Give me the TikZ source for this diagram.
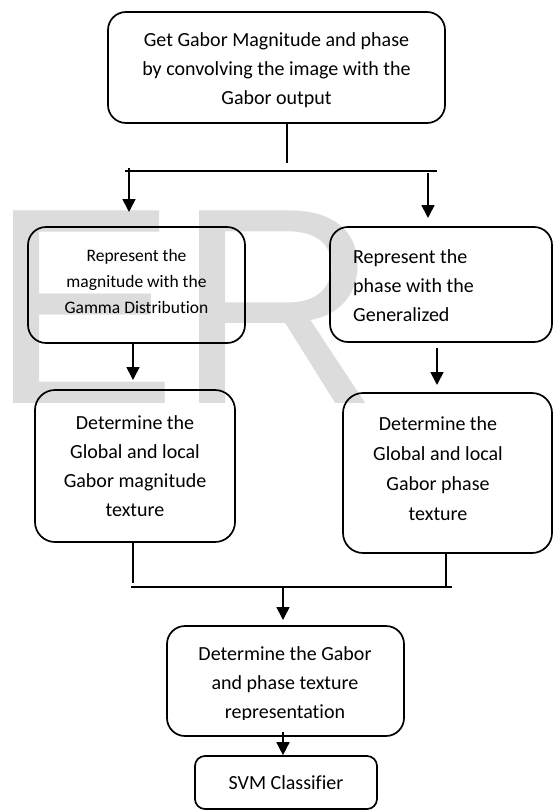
\documentclass[tikz,border=0pt]{standalone}
\usepackage{fontspec}
\setmainfont{Carlito}[Ligatures=NoCommon]
\newfontfamily\wmfont{Liberation Sans}
\usetikzlibrary{arrows.meta}
\definecolor{wmgray}{RGB}{220,220,220}
\tikzset{
  box/.style={draw, line width=1.7pt, rounded corners=18pt, inner sep=0pt},
  txt/.style={inner sep=0pt, font=\fontsize{20}{29}\selectfont, align=center},
  smalltxt/.style={inner sep=0pt, font=\fontsize{17.5}{26}\selectfont, align=center},
  conn/.style={line width=1.7pt},
  arr/.style={line width=1.7pt, -{Triangle[width=13pt,length=13pt]}}
}
\begin{document}
\begin{tikzpicture}[x=1pt,y=-1pt]
\useasboundingbox (0,0) rectangle (553,811);
% watermark
\node[anchor=base west, inner sep=0pt, text=wmgray, font=\wmfont\fontsize{280}{280}\selectfont] (wm) at (-10,403) {ER};

% boxes
\node[box, minimum width=337pt, minimum height=111pt] (b1) at (276.5,67.5) {};
\node[txt] (t1) at (276.5,70) {Get Gabor Magnitude and phase\\by convolving the image with the\\Gabor output};

\node[box, minimum width=217pt, minimum height=116pt] (b2l) at (136.5,285) {};
\node[smalltxt] (t2l) at (136.5,281) {Represent the\\magnitude with the\\Gamma Distribution};

\node[box, minimum width=222pt, minimum height=115pt] (b2r) at (441,284.5) {};
\node[txt, align=left, anchor=west] (t2r) at (353,286) {Represent the\\phase with the\\Generalized};

\node[box, minimum width=200pt, minimum height=152pt, rounded corners=20pt] (b3l) at (135,466) {};
\node[txt] (t3l) at (135,466) {Determine the\\Global and local\\Gabor magnitude\\texture};

\node[box, minimum width=209pt, minimum height=160pt, rounded corners=20pt] (b3r) at (447.5,473) {};
\node[txt, font=\fontsize{20}{30}\selectfont] (t3r) at (438,469) {Determine the\\Global and local\\Gabor phase\\texture};

\node[box, minimum width=237pt, minimum height=110pt] (b4) at (285.5,681) {};
\begin{scope}
\clip (167,626) rectangle (404,719);
\node[txt] (t4) at (285,684) {Determine the Gabor\\and phase texture\\representation};
\end{scope}

\node[box, minimum width=182pt, minimum height=53pt, rounded corners=10pt] (b5) at (286,782.5) {};
\node[txt] (t5) at (286,783) {SVM Classifier};

% connectors
\coordinate (j1) at (287,163);
\coordinate (hl) at (125,171);
\coordinate (hr) at (437,171);
\coordinate (a1s) at (129,168);
\coordinate (a1e) at (129,212);
\coordinate (a2s) at (428,173);
\coordinate (a2e) at (428,218);
\coordinate (a3e) at (133,380);
\coordinate (a4e) at (437,385);
\coordinate (m1) at (133,583);
\coordinate (m2) at (446,588);
\coordinate (ml) at (131,587);
\coordinate (mr) at (452,587);
\coordinate (a5s) at (283,587);
\coordinate (a5e) at (283,620);
\coordinate (a6s) at (283,732);

\draw[conn] (b1.south -| j1) -- (j1);
\draw[conn] (hl) -- (hr);
\draw[arr] (a1s) -- (a1e);
\draw[arr] (a2s) -- (a2e);
\draw[arr] (b2l.south -| a3e) -- (a3e);
\draw[arr] ([yshift=-5pt]b2r.south -| a4e) -- (a4e);
\draw[conn] (b3l.south -| m1) -- (m1);
\draw[conn] (b3r.south -| m2) -- (m2);
\draw[conn] (ml) -- (mr);
\draw[arr] (a5s) -- (a5e);
\draw[arr] (a6s) -- (b5.north -| a6s);
\end{tikzpicture}
\end{document}
